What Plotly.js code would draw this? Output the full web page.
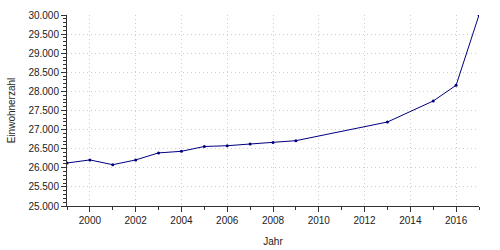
<!DOCTYPE html>
<html><head><meta charset="utf-8">
<script src="https://cdn.plot.ly/plotly-3.0.1.min.js"></script>
<style>body{margin:0;padding:0;background:#fff}#chart{width:500px;height:250px}</style>
</head><body><div id="chart"></div>
<script>
var years = [1999, 2000, 2001, 2002, 2003, 2004, 2005, 2006, 2007, 2008, 2009, 2013, 2015, 2016, 2017];
var population = [26126, 26206, 26081, 26206, 26390, 26432, 26558, 26578, 26623, 26665, 26710, 27199, 27749, 28160, 30000];
var yTickVals = [25000, 25500, 26000, 26500, 27000, 27500, 28000, 28500, 29000, 29500, 30000];

var trace = {
  x: years, y: population, type: 'scatter', mode: 'lines+markers',
  line: {color: '#00007f', width: 1},
  marker: {color: '#00007f', size: 3},
  hoverinfo: 'x+y'
};
var layout = {
  width: 500, height: 250,
  margin: {l: 67, r: 21, t: 15, b: 44},
  separators: ',.',
  paper_bgcolor: '#fff', plot_bgcolor: '#fff',
  font: {family: 'Liberation Sans, Arial, sans-serif', size: 10, color: '#222'},
  showlegend: false,
  xaxis: {
    range: [1999, 2017], tickmode: 'linear', tick0: 2000, dtick: 2,
    ticks: 'outside', ticklen: 5, tickcolor: '#333', tickwidth: 1,
    showline: true, linecolor: '#333', linewidth: 1,
    showgrid: true, gridcolor: '#cccccc', griddash: '1px,3px', gridwidth: 1,
    zeroline: false,
    minor: {dtick: 1, ticks: 'outside', ticklen: 3, tickcolor: '#333', showgrid: false},
    title: {text: 'Jahr', font: {size: 10}, standoff: 12}
  },
  yaxis: {
    range: [25000, 30000], tickvals: yTickVals, tickformat: ',d',
    ticks: 'outside', ticklen: 5, tickcolor: '#333', tickwidth: 1,
    showline: true, linecolor: '#333', linewidth: 1,
    showgrid: true, gridcolor: '#cccccc', griddash: '1px,3px', gridwidth: 1,
    zeroline: false,
    minor: {dtick: 100, tick0: 25000, ticks: 'outside', ticklen: 3, tickcolor: '#333', showgrid: false},
    title: {text: 'Einwohnerzahl', font: {size: 10}, standoff: 10}
  }
};
Plotly.newPlot('chart', [trace], layout, {staticPlot: true, displayModeBar: false});
</script>
</body></html>
